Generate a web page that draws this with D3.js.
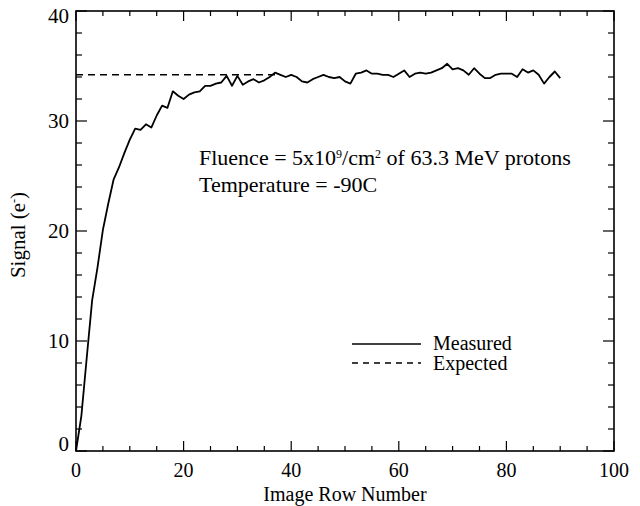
<!DOCTYPE html>
<html><head><meta charset="utf-8">
<script src="https://cdn.jsdelivr.net/npm/d3@7"></script>
<style>body{margin:0;background:#fff}svg{display:block}text{font-family:"Liberation Serif","Times New Roman",serif;fill:#000}</style>
</head><body>
<script>
const rows = d3.range(0, 91);
const measured = [0.0,3.2,8.5,13.7,16.7,20.1,22.5,24.7,25.8,27.1,28.3,29.3,29.2,29.7,29.4,30.5,31.4,31.2,32.7,32.3,
32.0,32.4,32.6,32.7,33.2,33.2,33.4,33.5,34.1,33.2,34.1,33.3,33.6,33.8,33.5,33.7,34.0,34.4,34.2,34.0,
34.2,34.0,33.6,33.5,33.8,34.0,34.2,34.0,33.9,34.0,33.6,33.4,34.3,34.4,34.6,34.3,34.3,34.2,34.2,34.0,
34.3,34.6,34.0,34.3,34.4,34.3,34.4,34.6,34.8,35.2,34.7,34.8,34.6,34.2,34.8,34.3,33.9,33.9,34.2,34.3,
34.3,34.3,34.0,34.7,34.4,34.6,34.2,33.4,34.0,34.5,33.9];
const expectedX = [0, 37];
const expectedY = [34.2, 34.2];
const xTicks = [0,20,40,60,80,100];
const yTicks = [0,10,20,30,40];

const W=640,H=506;
const svg=d3.select("body").append("svg").attr("width",W).attr("height",H);
const x=d3.scaleLinear().domain([0,100]).range([76,614]);
const y=d3.scaleLinear().domain([0,40]).range([451,11]);

const g=svg.append("g");
g.append("rect").attr("x",x(0)).attr("y",y(40)).attr("width",x(100)-x(0)).attr("height",y(0)-y(40))
 .attr("fill","none").attr("stroke","#000").attr("stroke-width",1.6);

const xMinor=d3.range(0,101,5), yMinor=d3.range(0,41,2);
xMinor.forEach(v=>{const L=(v%20===0)?10:5;
  g.append("line").attr("x1",x(v)).attr("x2",x(v)).attr("y1",y(0)).attr("y2",y(0)-L).attr("stroke","#000").attr("stroke-width",1.2);
  g.append("line").attr("x1",x(v)).attr("x2",x(v)).attr("y1",y(40)).attr("y2",y(40)+L).attr("stroke","#000").attr("stroke-width",1.2);
});
yMinor.forEach(v=>{const L=(v%10===0)?11:6;
  g.append("line").attr("y1",y(v)).attr("y2",y(v)).attr("x1",x(0)).attr("x2",x(0)+L).attr("stroke","#000").attr("stroke-width",1.2);
  g.append("line").attr("y1",y(v)).attr("y2",y(v)).attr("x1",x(100)).attr("x2",x(100)-L).attr("stroke","#000").attr("stroke-width",1.2);
});
xTicks.forEach(v=>g.append("text").attr("x",x(v)).attr("y",477).attr("text-anchor","middle").attr("font-size",20).text(v));
yTicks.forEach(v=>{let yy=y(v)+7; if(v===0) yy-=7; if(v===40) yy+=5;
  g.append("text").attr("x",69).attr("y",yy).attr("text-anchor","end").attr("font-size",21).text(v);});

g.append("text").attr("x",345).attr("y",501).attr("text-anchor","middle").attr("font-size",20).text("Image Row Number");
const yt=g.append("text").attr("transform","translate(25,235) rotate(-90)").attr("text-anchor","middle").attr("font-size",21);
yt.append("tspan").text("Signal (e");
yt.append("tspan").attr("baseline-shift","super").attr("font-size",12).text("-");
yt.append("tspan").text(")");

const line=d3.line().x(d=>x(d[0])).y(d=>y(d[1]));
g.append("path").datum(rows.map((r,i)=>[r,measured[i]])).attr("d",line).attr("fill","none").attr("stroke","#000").attr("stroke-width",1.8).attr("stroke-linejoin","round");
g.append("path").datum(expectedX.map((v,i)=>[v,expectedY[i]])).attr("d",line).attr("fill","none").attr("stroke","#000").attr("stroke-width",1.4).attr("stroke-dasharray","7,5");

const t1=g.append("text").attr("x",199).attr("y",165).attr("font-size",22);
t1.append("tspan").text("Fluence = 5x10");
t1.append("tspan").attr("baseline-shift","super").attr("font-size",12).text("9");
t1.append("tspan").text("/cm");
t1.append("tspan").attr("baseline-shift","super").attr("font-size",12).text("2");
t1.append("tspan").text(" of 63.3 MeV protons");
g.append("text").attr("x",199).attr("y",192).attr("font-size",22).text("Temperature = -90C");

g.append("line").attr("x1",352).attr("x2",421).attr("y1",344).attr("y2",344).attr("stroke","#000").attr("stroke-width",1.4);
g.append("line").attr("x1",352).attr("x2",421).attr("y1",363).attr("y2",363).attr("stroke","#000").attr("stroke-width",1.4).attr("stroke-dasharray","6,5");
g.append("text").attr("x",433).attr("y",350).attr("font-size",20).text("Measured");
g.append("text").attr("x",433).attr("y",370).attr("font-size",20).text("Expected");
</script>
</body></html>
